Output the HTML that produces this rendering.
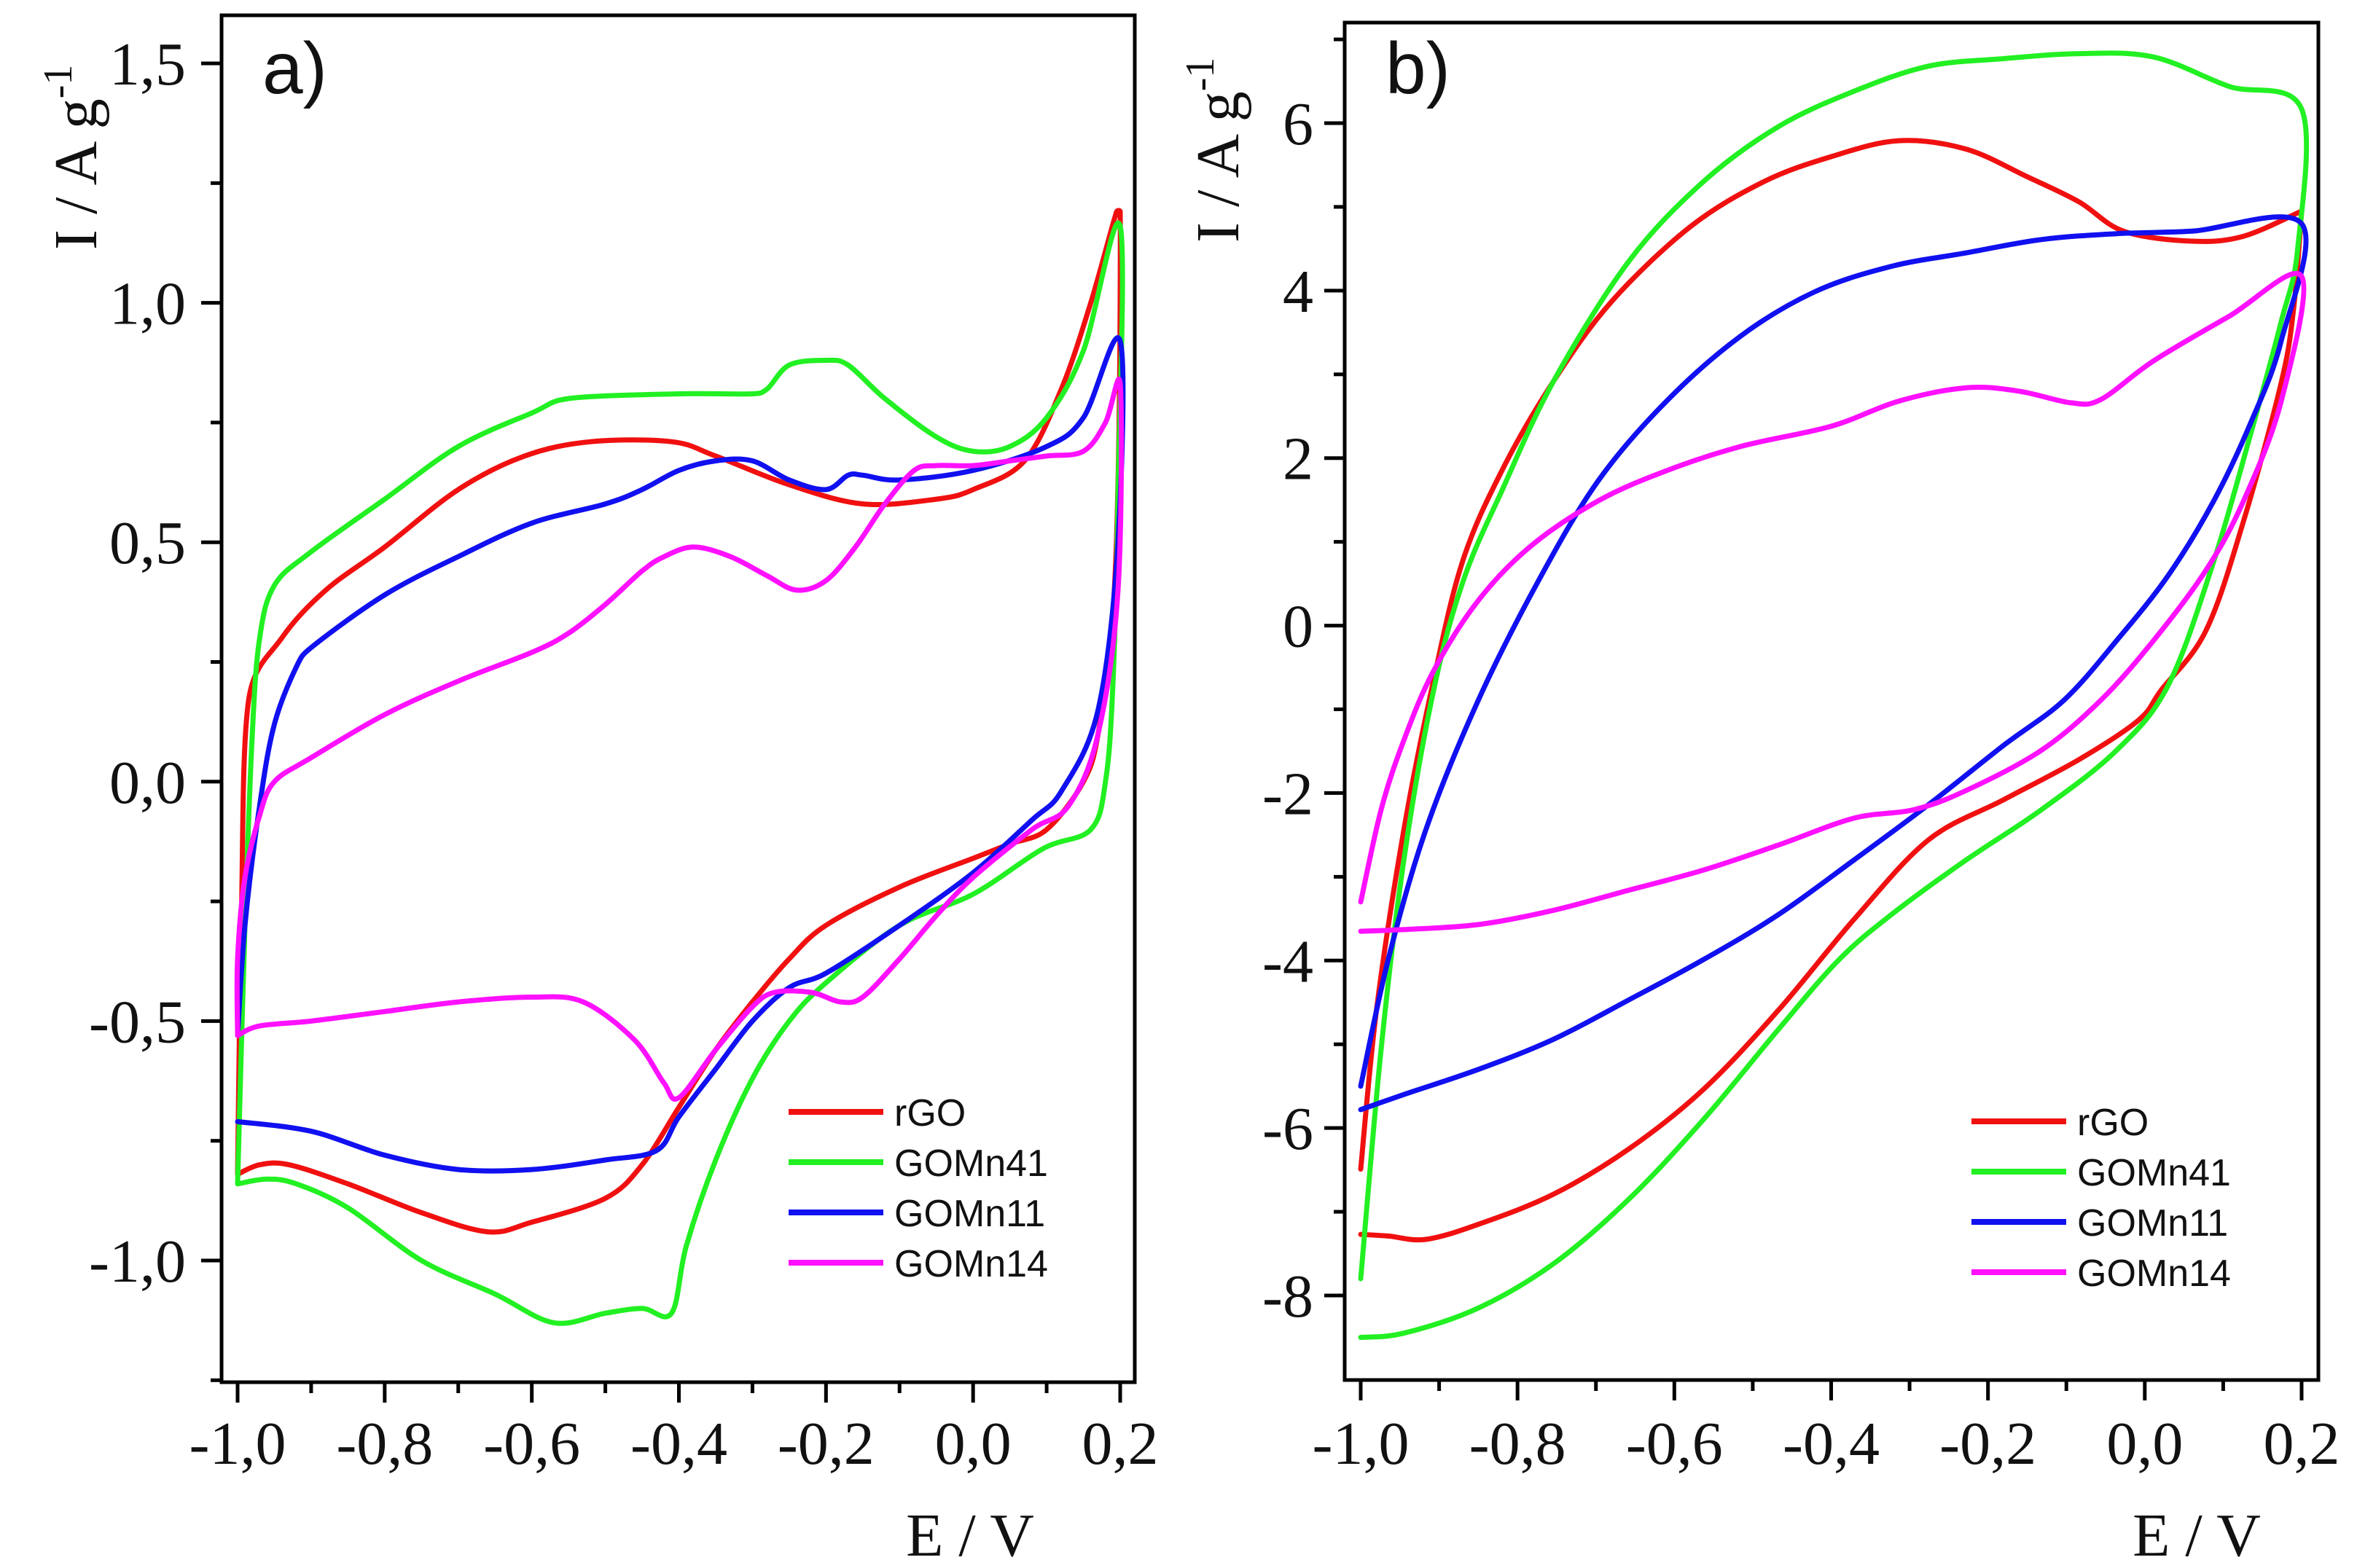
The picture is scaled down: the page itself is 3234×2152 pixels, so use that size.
<!DOCTYPE html>
<html><head><meta charset="utf-8"><style>
html,body{margin:0;padding:0;background:#fff;}
svg{display:block;}
.tk{font-family:"Liberation Serif",serif;font-size:84px;fill:#111;}
.lg{font-family:"Liberation Sans",sans-serif;font-size:52px;fill:#111;}
</style></head><body>
<svg id="fig" width="3234" height="2152" viewBox="0 0 3234 2152" xmlns="http://www.w3.org/2000/svg"></svg>
<script>
// ---- Panel a data (E / V, I / A g^-1) ----
const aRgoE = [-1.0,-0.995,-0.985,-0.94,-0.88,-0.8,-0.7,-0.61,-0.52,-0.41,-0.35,-0.25,-0.15,-0.05,0.0,0.07,0.12,0.16,0.195,0.2, 0.198,0.19,0.17,0.15,0.1,0.05,0.0,-0.1,-0.2,-0.25,-0.3,-0.35,-0.4,-0.45,-0.5,-0.6,-0.66,-0.75,-0.85,-0.93,-0.97,-1.0];
const aRgoI = [-0.82,-0.3,0.17,0.30,0.40,0.49,0.61,0.68,0.71,0.71,0.68,0.62,0.58,0.59,0.61,0.67,0.82,1.0,1.19,1.19, 0.7,0.35,0.1,0.0,-0.1,-0.13,-0.16,-0.22,-0.30,-0.37,-0.46,-0.56,-0.68,-0.80,-0.87,-0.92,-0.94,-0.90,-0.84,-0.80,-0.80,-0.82];
const aG41E = [-1.0,-0.99,-0.98,-0.97,-0.95,-0.9,-0.8,-0.7,-0.6,-0.55,-0.4,-0.3,-0.28,-0.25,-0.2,-0.17,-0.12,-0.05,0.0,0.05,0.1,0.15,0.2, 0.197,0.19,0.18,0.16,0.095,0.0,-0.1,-0.2,-0.25,-0.3,-0.35,-0.39,-0.41,-0.45,-0.5,-0.57,-0.65,-0.75,-0.85,-0.92,-0.96,-1.0];
const aG41I = [-0.84,-0.3,0.1,0.3,0.41,0.48,0.59,0.70,0.77,0.80,0.81,0.81,0.82,0.87,0.88,0.87,0.80,0.72,0.69,0.70,0.76,0.90,1.16, 0.6,0.2,0.0,-0.10,-0.14,-0.235,-0.30,-0.42,-0.50,-0.62,-0.79,-0.97,-1.11,-1.10,-1.11,-1.13,-1.07,-1.0,-0.89,-0.84,-0.83,-0.84];
const aG11E = [-1.0,-0.99,-0.97,-0.95,-0.92,-0.9,-0.8,-0.7,-0.6,-0.5,-0.45,-0.4,-0.35,-0.3,-0.25,-0.2,-0.17,-0.15,-0.1,0.0,0.1,0.15,0.2, 0.197,0.17,0.12,0.08,0.0,-0.1,-0.2,-0.25,-0.3,-0.35,-0.4,-0.43,-0.5,-0.6,-0.7,-0.8,-0.9,-1.0];
const aG11I = [-0.53,-0.3,-0.05,0.12,0.24,0.28,0.39,0.47,0.54,0.58,0.61,0.65,0.67,0.67,0.63,0.61,0.64,0.64,0.63,0.65,0.70,0.76,0.92, 0.5,0.15,-0.02,-0.08,-0.19,-0.30,-0.40,-0.43,-0.50,-0.60,-0.70,-0.77,-0.79,-0.81,-0.81,-0.78,-0.73,-0.71];
const aG14E = [-1.0,-1.0,-0.99,-0.97,-0.95,-0.9,-0.8,-0.7,-0.6,-0.55,-0.5,-0.45,-0.42,-0.38,-0.33,-0.28,-0.24,-0.2,-0.16,-0.12,-0.08,-0.05,0.0,0.05,0.1,0.15,0.18,0.2, 0.197,0.17,0.13,0.08,0.0,-0.05,-0.1,-0.15,-0.18,-0.22,-0.27,-0.3,-0.35,-0.4,-0.42,-0.46,-0.53,-0.6,-0.7,-0.8,-0.9,-0.97,-1.0];
const aG14I = [-0.53,-0.37,-0.2,-0.07,0.0,0.05,0.14,0.21,0.27,0.31,0.37,0.44,0.47,0.49,0.47,0.43,0.40,0.42,0.49,0.58,0.65,0.66,0.66,0.67,0.68,0.69,0.75,0.83, 0.4,0.1,-0.05,-0.10,-0.20,-0.28,-0.37,-0.45,-0.46,-0.44,-0.44,-0.47,-0.56,-0.66,-0.63,-0.54,-0.46,-0.45,-0.46,-0.48,-0.50,-0.51,-0.53];
const aXTicks = [-1.0,-0.8,-0.6,-0.4,-0.2,0.0,0.2];
const aXLabels = ["-1,0","-0,8","-0,6","-0,4","-0,2","0,0","0,2"];
const aYTicks = [-1.0,-0.5,0.0,0.5,1.0,1.5];
const aYLabels = ["-1,0","-0,5","0,0","0,5","1,0","1,5"];

// ---- Panel b data ----
const bRgoE = [-1.0,-0.98,-0.945,-0.907,-0.87,-0.82,-0.754,-0.68,-0.58,-0.486,-0.40,-0.314,-0.228,-0.15,-0.084,-0.027,0.06,0.126,0.2];
const bRgoI = [-6.49,-4.6,-2.44,-0.65,0.77,1.85,2.92,3.87,4.76,5.30,5.6,5.79,5.69,5.36,5.06,4.71,4.59,4.65,4.95];
const bRgoRE = [0.2,0.19,0.174,0.126,0.078,0.021,-0.008,-0.084,-0.18,-0.276,-0.371,-0.467,-0.563,-0.658,-0.754,-0.85,-0.917,-0.965,-1.0];
const bRgoRI = [4.95,3.8,2.9,1.25,-0.06,-0.77,-1.13,-1.6,-2.08,-2.56,-3.51,-4.59,-5.54,-6.25,-6.79,-7.15,-7.33,-7.29,-7.27];
const bG41E = [-1.0,-0.974,-0.945,-0.907,-0.869,-0.82,-0.754,-0.658,-0.563,-0.467,-0.371,-0.276,-0.18,-0.084,0.011,0.107,0.2, 0.195,0.174,0.136,0.088,0.03,-0.036,-0.132,-0.228,-0.323,-0.39,-0.467,-0.563,-0.658,-0.754,-0.85,-0.945,-1.0];
const bG41I = [-7.8,-5.06,-2.8,-0.77,0.54,1.61,2.92,4.35,5.30,5.96,6.38,6.68,6.77,6.83,6.79,6.44,6.17, 4.5,3.63,2.32,0.77,-0.71,-1.49,-2.2,-2.8,-3.45,-3.99,-4.82,-5.9,-6.85,-7.62,-8.15,-8.45,-8.5];
const bG11E = [-1.0,-0.965,-0.917,-0.85,-0.773,-0.697,-0.61,-0.515,-0.42,-0.323,-0.228,-0.132,-0.036,0.06,0.2, 0.174,0.136,0.088,0.03,-0.036,-0.103,-0.18,-0.276,-0.371,-0.467,-0.563,-0.658,-0.754,-0.85,-0.945,-1.0];
const bG11I = [-5.5,-3.99,-2.44,-0.89,0.54,1.73,2.68,3.46,3.99,4.29,4.45,4.61,4.68,4.71,4.80, 3.4,2.44,1.49,0.6,-0.18,-0.89,-1.43,-2.14,-2.8,-3.45,-3.99,-4.47,-4.94,-5.3,-5.6,-5.78];
const bG14E = [-1.0,-0.974,-0.945,-0.907,-0.85,-0.783,-0.697,-0.61,-0.515,-0.4,-0.314,-0.228,-0.161,-0.094,-0.056,0.011,0.107,0.2, 0.174,0.126,0.078,0.011,-0.056,-0.132,-0.228,-0.295,-0.371,-0.467,-0.563,-0.658,-0.754,-0.85,-0.945,-1.0];
const bG14I = [-3.3,-2.2,-1.37,-0.54,0.3,0.95,1.49,1.85,2.14,2.38,2.68,2.84,2.80,2.66,2.7,3.16,3.69,4.17, 2.68,1.49,0.66,-0.18,-0.89,-1.49,-1.97,-2.2,-2.3,-2.62,-2.92,-3.16,-3.4,-3.57,-3.63,-3.65];
const bXTicks = [-1.0,-0.8,-0.6,-0.4,-0.2,0.0,0.2];
const bXLabels = ["-1,0","-0,8","-0,6","-0,4","-0,2","0,0","0,2"];
const bYTicks = [-8,-6,-4,-2,0,2,4,6];
const bYLabels = ["-8","-6","-4","-2","0","2","4","6"];

const seriesNames = ["rGO","GOMn41","GOMn11","GOMn14"];
const seriesColors = ["#f01010","#22f022","#1010f0","#ff10ff"];

const NS = "http://www.w3.org/2000/svg";
const svg = document.getElementById("fig");
function mk(tag, attrs, parent){const e=document.createElementNS(NS,tag);for(const k in attrs)e.setAttribute(k,attrs[k]);(parent||svg).appendChild(e);return e;}

function smoothPath(P){
  let d = "M"+P[0][0].toFixed(1)+" "+P[0][1].toFixed(1);
  for(let i=0;i<P.length-1;i++){
    const p0=P[Math.max(0,i-1)], p1=P[i], p2=P[i+1], p3=P[Math.min(P.length-1,i+2)];
    const seg=Math.hypot(p2[0]-p1[0],p2[1]-p1[1]);
    const lim=(a,b)=>{const l=Math.hypot(a[0],a[1]);return l>0?Math.min(1,seg*0.5/l*6):1;};
    let t1=[(p2[0]-p0[0])/6,(p2[1]-p0[1])/6], t2=[(p3[0]-p1[0])/6,(p3[1]-p1[1])/6];
    const f1=Math.min(1,(seg/2)/Math.max(1e-6,Math.hypot(t1[0],t1[1]))), f2=Math.min(1,(seg/2)/Math.max(1e-6,Math.hypot(t2[0],t2[1])));
    const c1=[p1[0]+t1[0]*f1,p1[1]+t1[1]*f1], c2=[p2[0]-t2[0]*f2,p2[1]-t2[1]*f2];
    d+=" C"+c1[0].toFixed(1)+" "+c1[1].toFixed(1)+" "+c2[0].toFixed(1)+" "+c2[1].toFixed(1)+" "+p2[0].toFixed(1)+" "+p2[1].toFixed(1);
  }
  return d;
}

function panel(cfg){
  const g = mk("g",{});
  
  
  const sx = v => cfg.px0 + (v - cfg.x0)/(cfg.x1 - cfg.x0)*(cfg.px1 - cfg.px0);
  const sy = v => cfg.py0 + (v - cfg.y0)/(cfg.y1 - cfg.y0)*(cfg.py1 - cfg.py0);
  cfg.series.forEach((s,i)=>{
    s.parts.forEach(([E,I])=>{
      const pts = E.map((e,k)=>[sx(e),sy(I[k])]);
      const p = mk("path",{d:smoothPath(pts),fill:"none",stroke:seriesColors[i],"stroke-width":7,"stroke-linejoin":"round","stroke-linecap":"round"},g);
      
      
    });
  });
  const fr = mk("rect",{x:cfg.fx0,y:cfg.fy0,width:cfg.fx1-cfg.fx0,height:cfg.fy1-cfg.fy0,fill:"none",stroke:"#000","stroke-width":5},g);
  
  
  const xa = mk("g",{},g);
  
  
  cfg.xt.forEach((v,k)=>{
    mk("line",{x1:sx(v),x2:sx(v),y1:cfg.fy1,y2:cfg.fy1+28,stroke:"#000","stroke-width":5},xa);
    if(k<cfg.xt.length-1){const m=(v+cfg.xt[k+1])/2;mk("line",{x1:sx(m),x2:sx(m),y1:cfg.fy1,y2:cfg.fy1+15,stroke:"#000","stroke-width":5},xa);}
    const t = mk("text",{x:sx(v),y:2009,"text-anchor":"middle",class:"tk"},xa);
    t.textContent = cfg.xl[k];
    
    
  });
  const ya = mk("g",{},g);
  
  
  const ystep = cfg.yt[1]-cfg.yt[0];
  for(let v=cfg.yt[0]-ystep; v<=cfg.yt[cfg.yt.length-1]+ystep+1e-9; v+=ystep/2){
    const py = sy(v); if(py<cfg.fy0+2||py>cfg.fy1-2) continue;
    const major = cfg.yt.some(t=>Math.abs(t-v)<1e-6);
    mk("line",{x1:cfg.fx0-(major?28:15),x2:cfg.fx0,y1:py,y2:py,stroke:"#000","stroke-width":5},ya);
  }
  cfg.yt.forEach((v,k)=>{
    const t = mk("text",{x:cfg.ylx,y:sy(v)+29,"text-anchor":"end",class:"tk"},ya);
    t.textContent = cfg.yl[k];
    
    
  });
  const yt = mk("text",{transform:`translate(${cfg.ytx},${cfg.yty}) rotate(-90)`,class:"tk","font-size":86},g);
  yt.innerHTML = 'I / A g<tspan dy="-34" font-size="56">-1</tspan>';
  
  
  const xt = mk("text",{x:cfg.xtx,y:2135,"text-anchor":"middle",class:"tk","font-size":88},g);
  xt.textContent = "E / V";
  
  
  const pl = mk("text",{x:cfg.fx0+56,y:128,"font-family":"Liberation Sans, sans-serif","font-size":100,fill:"#111"},g);
  pl.textContent = cfg.label;
  
  
  const lg = mk("g",{},g);
  
  
  seriesNames.forEach((n,i)=>{
    const y = cfg.lgy + i*69;
    const e = mk("g",{},lg);
    
    
    mk("line",{x1:cfg.lgx,x2:cfg.lgx+130,y1:y,y2:y,stroke:seriesColors[i],"stroke-width":8},e);
    const t = mk("text",{x:cfg.lgx+145,y:y+19,class:"lg"},e);
    t.textContent = n;
  });
}

panel({name:"panel-a",label:"a)",x0:-1.0,x1:0.2,px0:326,px1:1537,y0:-1.0,y1:1.5,py0:1730,py1:87,
  fx0:304,fx1:1557,fy0:21,fy1:1897,xt:aXTicks,xl:aXLabels,yt:aYTicks,yl:aYLabels,ylx:255,
  ytx:132,yty:343,xtx:1331,lgx:1082,lgy:1526,
  series:[{parts:[[aRgoE,aRgoI]]},{parts:[[aG41E,aG41I]]},{parts:[[aG11E,aG11I]]},{parts:[[aG14E,aG14I]]}]});
panel({name:"panel-b",label:"b)",x0:-1.0,x1:0.2,px0:1867,px1:3158,y0:-8,y1:6,py0:1778,py1:169,
  fx0:1845,fx1:3181,fy0:31,fy1:1894,xt:bXTicks,xl:bXLabels,yt:bYTicks,yl:bYLabels,ylx:1802,
  ytx:1699,yty:333,xtx:3014,lgx:2705,lgy:1539,
  series:[{parts:[[bRgoE,bRgoI],[bRgoRE,bRgoRI]]},{parts:[[bG41E,bG41I]]},{parts:[[bG11E,bG11I]]},{parts:[[bG14E,bG14I]]}]});
</script>
</body></html>
